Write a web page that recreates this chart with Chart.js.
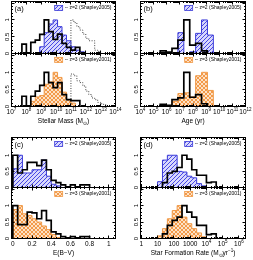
<!DOCTYPE html>
<html>
<head>
<meta charset="utf-8">
<script src="https://cdn.jsdelivr.net/npm/chart.js@4/dist/chart.umd.min.js"></script>
<style>
html, body { margin: 0; padding: 0; background: #fff; }
#wrap { position: relative; width: 253px; height: 260px; }
#wrap canvas { position: absolute; left: 0; top: 0; }
</style>
</head>
<body>
<div id="wrap"></div>
<script>
// ---- data: bin edges (log10 units except E(B-V)) and normalised counts ----
const massEdges = [7.7, 8.0, 8.3, 8.6, 8.9, 9.2, 9.5, 9.8, 10.1, 10.4, 10.7, 11.0, 11.3, 11.6, 11.9];
const massSampleTop = [0.28, 0.02, 0.33, 0.4, 0.57, 1.0, 0.65, 0.42, 0.58, 0.3, 0.18, 0.1, 0.18, 0];
const massShapley05 = [0, 0, 0, 0, 0.2, 0.62, 0.88, 1.0, 0.8, 0.55, 0.38, 0.2, 0.1, 0.05];
const massSampleBottom = [0.3, 0.02, 0.3, 0.45, 0.62, 1.0, 0.7, 0.55, 0.7, 0.35, 0.2, 0.17, 0.17, 0];
const massShapley01 = [0, 0, 0.15, 0.28, 0.32, 0.65, 0.72, 1.0, 0.85, 0.42, 0.2, 0.1, 0, 0];
const massDotEdges = [11.0, 11.2, 11.4, 11.6, 11.8, 12.0, 12.2, 12.4, 12.6, 12.8, 13.0, 13.2, 13.4];
const massDotTop = [1.0, 0.92, 0.8, 0.7, 0.58, 0.45, 0.38, 0.38, 0.1, 0.06, 0, 0];
const massDotBottom = [0.95, 0.9, 0.75, 0.7, 0.6, 0.45, 0.35, 0.25, 0.2, 0.12, 0.08, 0.05];

const ageEdges = [5.5, 5.95, 6.4, 6.85, 7.3, 7.75, 8.2, 8.65, 9.1, 9.55];
const ageSampleTop = [0.08, 0.04, 0.15, 0.4, 1.0, 0.25, 0.3, 0.08, 0];
const ageShapley05 = [0, 0, 0, 0.62, 0, 0.05, 0.6, 1.0, 0.55];
const ageSampleBottom = [0.06, 0.03, 0.2, 0.25, 1.0, 0.27, 0.35, 0.08, 0];
const ageShapley01 = [0, 0, 0.15, 0.38, 0.4, 0.28, 0.9, 1.0, 0.47];

const ebvEdges = [0, 0.05, 0.1, 0.15, 0.2, 0.25, 0.3, 0.35, 0.4, 0.45, 0.5, 0.55, 0.6, 0.65, 0.7, 0.75, 0.8];
const ebvSampleTop = [1.0, 0.45, 0.55, 0.78, 0.78, 0.68, 0.85, 0.55, 0.22, 0.15, 0.08, 0.02, 0.08, 0.02, 0.08, 0.08];
const ebvShapley05 = [0.58, 1.0, 0.45, 0.45, 0.55, 0.55, 0.85, 0.35, 0.1, 0.05, 0, 0, 0, 0, 0, 0];
const ebvSampleBottom = [1.0, 0.42, 0.42, 0.8, 0.78, 0.6, 0.85, 0.55, 0.2, 0.14, 0.06, 0.02, 0.06, 0.02, 0.06, 0.06];
const ebvShapley01 = [0.88, 1.0, 0.75, 0.7, 0.6, 0.5, 0.38, 0.27, 0.12, 0.03, 0, 0, 0, 0, 0, 0];

const sfrEdges = [1.0, 1.3, 1.6, 1.9, 2.2, 2.5, 2.8, 3.1, 3.4, 3.7, 4.0, 4.3, 4.6];
const sfrSampleTop = [0, 0.15, 0.45, 0.5, 0.62, 1.0, 0.88, 0.55, 0.38, 0.38, 0.15, 0.17];
const sfrShapley05 = [0.18, 0.85, 1.0, 1.0, 0.5, 0.48, 0.35, 0.3, 0.12, 0.05, 0, 0];
const sfrSampleBottom = [0, 0.14, 0.4, 0.55, 0.65, 1.0, 0.8, 0.65, 0.4, 0.4, 0.12, 0.14];
const sfrShapley01 = [0.08, 0.3, 0.6, 0.85, 1.0, 0.65, 0.45, 0.3, 0.17, 0.05, 0, 0];

// ---- tick labels ----
const massTickVals = [7, 8, 9, 10, 11, 12, 13, 14];
const massTickLabels = ['10^{7}', '10^{8}', '10^{9}', '10^{10}', '10^{11}', '10^{12}', '10^{13}', '10^{14}'];
const ageTickVals = [4, 5, 6, 7, 8, 9, 10, 11, 12];
const ageTickLabels = ['10^{4}', '10^{5}', '10^{6}', '10^{7}', '10^{8}', '10^{9}', '10^{10}', '10^{11}', '10^{12}'];
const ebvTickVals = [0, 0.2, 0.4, 0.6, 0.8, 1];
const ebvTickLabels = ['0', '0.2', '0.4', '0.6', '0.8', '1'];
const sfrTickVals = [0, 1, 2, 3, 4, 5, 6];
const sfrTickLabels = ['1', '10', '100', '1000', '10^{4}', '10^{5}', '10^{6}'];
const yTickVals = [0, 0.5, 1];
const yTickLabels = ['0', '0.5', '1'];

// ---- layout ----
const W = 253, H = 260;
const FONT = "'Liberation Sans', Arial, sans-serif";
const colL = [11.5, 140.5], colR = [115.5, 245.5];
const rowT = [1.5, 137.5], rowM = [53.5, 187.5], rowB = [106.5, 238.5];
const YMAX = 1.55;

function hatchPattern(line, bg, cross) {
  const s = 4;
  const c = document.createElement('canvas');
  c.width = c.height = s;
  const g = c.getContext('2d');
  g.fillStyle = bg; g.fillRect(0, 0, s, s);
  g.strokeStyle = line; g.lineWidth = 1;
  g.beginPath();
  g.moveTo(0, s); g.lineTo(s, 0);
  g.moveTo(-1, 1); g.lineTo(1, -1);
  g.moveTo(s - 1, s + 1); g.lineTo(s + 1, s - 1);
  if (cross) {
    g.moveTo(0, 0); g.lineTo(s, s);
    g.moveTo(-1, s - 1); g.lineTo(1, s + 1);
    g.moveTo(s - 1, -1); g.lineTo(s + 1, 1);
  }
  g.stroke();
  return g.createPattern(c, 'repeat');
}
const BLUE = { line: '#3a3ad8', fill: hatchPattern('#4848e6', '#d8d8fc', false), text: '-- z=2 (Shapley2005)' };
const ORANGE = { line: '#f09a48', fill: hatchPattern('#f39a4a', '#fde2c6', true), text: '-- z=3 (Shapley2001)' };

function histPoints(edges, h) {
  let i0 = 0, i1 = h.length - 1;
  while (i0 < i1 && !h[i0]) i0++;
  while (i1 > i0 && !h[i1]) i1--;
  const pts = [{ x: edges[i0], y: 0 }];
  for (let i = i0; i <= i1; i++) pts.push({ x: edges[i], y: h[i] });
  pts.push({ x: edges[i1 + 1], y: 0 });
  return pts;
}
function blackSet(edges, h) {
  return { data: histPoints(edges, h), borderColor: '#000', borderWidth: 1.7, fill: false, stepped: true, order: 0 };
}
function dottedSet(edges, h) {
  return { data: histPoints(edges, h), borderColor: '#444', borderWidth: 1, borderDash: [1, 1.5], fill: false, stepped: true, order: 1 };
}
function hatchSet(edges, h, st) {
  return { data: histPoints(edges, h), borderColor: st.line, borderWidth: 1, backgroundColor: st.fill, fill: 'origin', stepped: true, order: 2 };
}

function logMinor(min, max) {
  const out = [];
  for (let d = Math.floor(min); d < max; d++)
    for (let k = 2; k <= 9; k++) { const v = d + Math.log10(k); if (v > min && v < max) out.push(v); }
  return out;
}
function linMinor(min, max, step) {
  const out = [];
  for (let v = Math.ceil(min / step) * step; v < max; v += step) out.push(+v.toFixed(4));
  return out;
}

function parseRich(s) {
  const out = [], re = /([\^_])\{([^}]*)\}|([^\^_]+)/g;
  let m;
  while ((m = re.exec(s))) {
    if (m[3]) out.push({ t: m[3], k: 0 });
    else out.push({ t: m[2], k: m[1] === '^' ? 1 : -1 });
  }
  return out;
}
function drawRich(ctx, s, cx, cy, size) {
  const segs = parseRich(s);
  let w = 0;
  segs.forEach(g => { ctx.font = (g.k ? size * 0.7 : size) + 'px ' + FONT; g.w = ctx.measureText(g.t).width; w += g.w; });
  let x = cx - w / 2;
  ctx.textAlign = 'left'; ctx.textBaseline = 'middle';
  segs.forEach(g => {
    ctx.font = (g.k ? size * 0.7 : size) + 'px ' + FONT;
    ctx.fillText(g.t, x, cy - g.k * size * 0.42);
    x += g.w;
  });
}

function decoPlugin(d) {
  return {
    id: 'deco',
    afterDraw(chart) {
      const ctx = chart.ctx, a = chart.chartArea, xs = chart.scales.x, ys = chart.scales.y;
      const snap = p => Math.round(p - 0.5) + 0.5;
      ctx.save();
      ctx.strokeStyle = '#000'; ctx.fillStyle = '#000'; ctx.lineWidth = 1;
      ctx.beginPath();
      const xt = (vals, len) => vals.forEach(v => {
        const p = snap(xs.getPixelForValue(v));
        ctx.moveTo(p, a.bottom); ctx.lineTo(p, a.bottom - len);
        ctx.moveTo(p, a.top); ctx.lineTo(p, a.top + len);
      });
      const yt = (vals, len) => vals.forEach(v => {
        const p = snap(ys.getPixelForValue(v));
        ctx.moveTo(a.left, p); ctx.lineTo(a.left + len, p);
        ctx.moveTo(a.right, p); ctx.lineTo(a.right - len, p);
      });
      xt(d.xMajor, 3); xt(d.xMinor, 1.5);
      yt([0, 0.5, 1, 1.5], 3); yt(linMinor(0, YMAX, 0.1), 1.5);
      ctx.stroke();
      ctx.strokeRect(a.left, a.top, a.right - a.left, a.bottom - a.top);

      // y tick labels, rotated
      ctx.font = '6px ' + FONT; ctx.textAlign = 'center'; ctx.textBaseline = 'middle';
      yTickVals.forEach((v, i) => {
        ctx.save();
        ctx.translate(a.left - 4.5, ys.getPixelForValue(v));
        ctx.rotate(-Math.PI / 2);
        ctx.fillText(yTickLabels[i], 0, 0);
        ctx.restore();
      });

      if (d.xLabels) {
        d.xMajor.forEach((v, i) => drawRich(ctx, d.xLabels[i], xs.getPixelForValue(v), a.bottom + 5.5, 6.5));
        drawRich(ctx, d.title, (a.left + a.right) / 2, a.bottom + 15, 6.5);
      }
      if (d.letter) {
        ctx.font = '7.5px ' + FONT; ctx.textAlign = 'left'; ctx.textBaseline = 'middle';
        ctx.fillText(d.letter, a.left + 3, a.top + 7.5);
      }
      // legend
      const st = d.legend, ly = a.top + 6.5;
      ctx.font = '5px ' + FONT; ctx.textAlign = 'right'; ctx.textBaseline = 'middle';
      const tw = ctx.measureText(st.text).width;
      ctx.fillText(st.text, a.right - 4, ly);
      const bx = a.right - 4 - tw - 10;
      ctx.fillStyle = st.fill; ctx.fillRect(bx, ly - 2.5, 8, 5);
      ctx.strokeStyle = st.line; ctx.lineWidth = 0.8; ctx.strokeRect(bx, ly - 2.5, 8, 5);
      ctx.restore();
    }
  };
}

function subChart(box, xr, datasets, deco) {
  const cv = document.createElement('canvas');
  cv.width = W; cv.height = H;
  cv.style.width = W + 'px'; cv.style.height = H + 'px';
  document.getElementById('wrap').appendChild(cv);
  return new Chart(cv, {
    type: 'line',
    data: { datasets },
    options: {
      responsive: false, animation: false, devicePixelRatio: 1,
      layout: { padding: { left: box.l, top: box.t, right: W - box.r, bottom: H - box.b } },
      scales: {
        x: { type: 'linear', min: xr[0], max: xr[1], display: false },
        y: { type: 'linear', min: 0, max: YMAX, display: false }
      },
      elements: { point: { radius: 0 }, line: { tension: 0 } },
      plugins: { legend: { display: false }, tooltip: { enabled: false } }
    },
    plugins: [decoPlugin(deco)]
  });
}

const panels = [
  { col: 0, row: 0, letter: '(a)', xr: [7, 14], major: massTickVals, labels: massTickLabels, log: true,
    title: 'Stellar Mass (M_{⊙})',
    top: [blackSet(massEdges, massSampleTop), dottedSet(massDotEdges, massDotTop), hatchSet(massEdges, massShapley05, BLUE)],
    bottom: [blackSet(massEdges, massSampleBottom), dottedSet(massDotEdges, massDotBottom), hatchSet(massEdges, massShapley01, ORANGE)] },
  { col: 1, row: 0, letter: '(b)', xr: [4, 12], major: ageTickVals, labels: ageTickLabels, log: true,
    title: 'Age (yr)',
    top: [blackSet(ageEdges, ageSampleTop), hatchSet(ageEdges, ageShapley05, BLUE)],
    bottom: [blackSet(ageEdges, ageSampleBottom), hatchSet(ageEdges, ageShapley01, ORANGE)] },
  { col: 0, row: 1, letter: '(c)', xr: [-0.014, 1.07], major: ebvTickVals, labels: ebvTickLabels, log: false,
    title: 'E(B−V)',
    top: [blackSet(ebvEdges, ebvSampleTop), hatchSet(ebvEdges, ebvShapley05, BLUE)],
    bottom: [blackSet(ebvEdges, ebvSampleBottom), hatchSet(ebvEdges, ebvShapley01, ORANGE)] },
  { col: 1, row: 1, letter: '(d)', xr: [-0.05, 6.4], major: sfrTickVals, labels: sfrTickLabels, log: true,
    title: 'Star Formation Rate (M_{⊙}yr^{−1})',
    top: [blackSet(sfrEdges, sfrSampleTop), hatchSet(sfrEdges, sfrShapley05, BLUE)],
    bottom: [blackSet(sfrEdges, sfrSampleBottom), hatchSet(sfrEdges, sfrShapley01, ORANGE)] }
];

panels.forEach(p => {
  const l = colL[p.col], r = colR[p.col];
  const minor = p.log ? logMinor(p.xr[0], p.xr[1]) : linMinor(0, p.xr[1], 0.05).filter(v => Math.abs(v * 5 - Math.round(v * 5)) > 1e-6);
  subChart({ l, r, t: rowT[p.row], b: rowM[p.row] }, p.xr, p.top,
    { xMajor: p.major, xMinor: minor, letter: p.letter, legend: BLUE });
  subChart({ l, r, t: rowM[p.row], b: rowB[p.row] }, p.xr, p.bottom,
    { xMajor: p.major, xMinor: minor, xLabels: p.labels, title: p.title, legend: ORANGE });
});
</script>
</body>
</html>
